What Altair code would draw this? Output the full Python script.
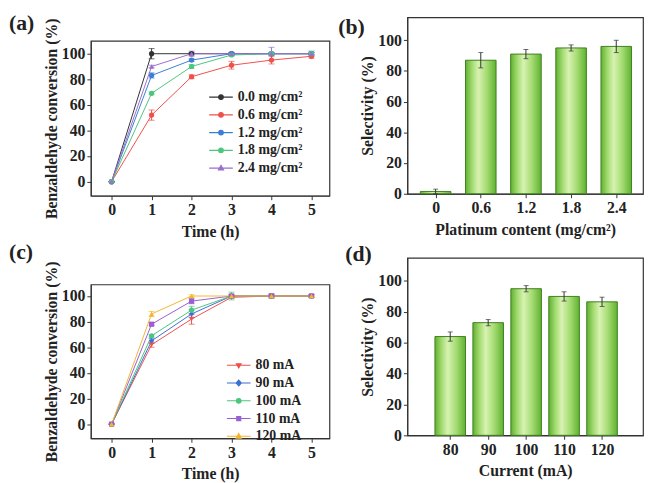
import altair as alt
import pandas as pd

# ---------------- data ----------------
time_h = [0, 1, 2, 3, 4, 5]

# (a) conversion vs time for different Pt loadings
load_labels = ["0.0 mg/cm²", "0.6 mg/cm²", "1.2 mg/cm²", "1.8 mg/cm²", "2.4 mg/cm²"]
conv_a = [
    [0, 100, 100, 100, 100, 100],
    [0, 52, 82, 91, 95, 98],
    [0, 83, 95, 100, 100, 100],
    [0, 69, 90, 99, 100, 100],
    [0, 90, 100, 100, 100, 100],
]
err_a = [
    [0, 4, 1, 1, 1, 1],
    [0, 4, 1.5, 3, 3, 1.5],
    [0, 2, 1, 1, 1, 2],
    [0, 1, 1.5, 1, 1, 1],
    [0, 1, 2, 1, 5, 1],
]
colors_a = ["#333333", "#f0504a", "#3b7fd4", "#4cc67e", "#9a6fd0"]
shapes_a = ["circle", "circle", "circle", "circle", "triangle-up"]

# (b) selectivity vs Pt content
pt_content = [0, 0.6, 1.2, 1.8, 2.4]
sel_b = [1.5, 87, 91, 95, 96]
err_b = [1.5, 5, 3, 2, 4]

# (c) conversion vs time for different currents
curr_labels = ["80 mA", "90 mA", "100 mA", "110 mA", "120 mA"]
conv_c = [
    [0, 62, 82, 99, 100, 100],
    [0, 65, 86, 100, 100, 100],
    [0, 69, 89, 100, 100, 100],
    [0, 78, 96, 100, 100, 100],
    [0, 86, 100, 100, 100, 100],
]
err_c = [
    [0, 2, 4, 1, 1, 1],
    [0, 2, 3, 1, 1, 1],
    [0, 1, 3, 3, 2, 1],
    [0, 1, 2, 1, 1, 1],
    [0, 2, 1, 1, 1, 1],
]
colors_c = ["#f0504a", "#3b6fd4", "#4cc67e", "#9a5fd0", "#f5b52e"]
shapes_c = ["triangle-down", "diamond", "circle", "square", "triangle-up"]

# (d) selectivity vs current
current_ma = [80, 90, 100, 110, 120]
sel_d = [64, 73, 95, 90, 86.5]
err_d = [3, 2, 2, 3, 3]

# ---------------- styling helpers ----------------
FONT = "Liberation Serif"
INK = "#222222"
FRAME = "#333333"

LEG_PATH = {
    "circle": "M-1,0L1,0M-0.2,0A0.2,0.2,0,1,0,0.2,0A0.2,0.2,0,1,0,-0.2,0Z",
    "triangle-up": "M-1,0L1,0M0,-0.24L0.22,0.16L-0.22,0.16Z",
    "triangle-down": "M-1,0L1,0M0,0.22L0.2,-0.14L-0.2,-0.14Z",
    "diamond": "M-1,0L1,0M0,-0.25L0.22,0L0,0.25L-0.22,0Z",
    "square": "M-1,0L1,0M-0.17,-0.17H0.17V0.17H-0.17Z",
}

IND = dict(color="independent", shape="independent", fill="independent", stroke="independent")


def long_df(labels, values, errs):
    rows = []
    for lab, vals, es in zip(labels, values, errs):
        for t, v, e in zip(time_h, vals, es):
            rows.append({"s": lab, "t": t, "v": v, "lo": v - e, "hi": v + e})
    return pd.DataFrame(rows)


def js_list(items):
    return "[" + ",".join("'" + i + "'" for i in items) + "]"


def line_panel(labels, values, errs, colors, shapes, ydom, h, tag, toff, lx, ly):
    df = long_df(labels, values, errs)
    base = alt.Chart(df)
    x = alt.X("t:Q", scale=alt.Scale(domain=[-0.52, 5.45], nice=False, zero=False),
              axis=alt.Axis(values=time_h, title="Time (h)", format="d", labelOverlap=False,
                            tickCount=20))
    y = alt.Y("v:Q", scale=alt.Scale(domain=ydom, nice=False, zero=False),
              axis=alt.Axis(values=[0, 20, 40, 60, 80, 100], title="Benzaldehyde conversion (%)",
                            labelOverlap=False, tickCount=20))
    col = alt.Color("s:N", scale=alt.Scale(domain=labels, range=colors), legend=None)
    lines = base.mark_line(strokeWidth=1).encode(x=x, y=y, color=col)
    rules = base.mark_rule(strokeWidth=1).encode(x=x, y=alt.Y("lo:Q"), y2="hi:Q", color=col)
    cap_lo = base.mark_tick(orient="horizontal", size=6, thickness=1).encode(x=x, y=alt.Y("lo:Q"), color=col)
    cap_hi = base.mark_tick(orient="horizontal", size=6, thickness=1).encode(x=x, y=alt.Y("hi:Q"), color=col)
    pts = []
    for lab, shp in zip(labels, shapes):
        pts.append(base.transform_filter(alt.datum.s == lab).mark_point(
            filled=True, size=28, opacity=1, shape=shp).encode(x=x, y=y, color=col))
    col_expr = js_list(colors) + "[indexof(" + js_list(labels) + ", datum.value)]"
    leg = base.mark_point(filled=True, opacity=0).encode(
        x=x, y=y,
        fill=alt.Fill("s:N", scale=alt.Scale(domain=labels, range=colors), legend=None),
        stroke=alt.Stroke("s:N", scale=alt.Scale(domain=labels, range=colors), legend=None),
        shape=alt.Shape("s:N", scale=alt.Scale(domain=labels, range=[LEG_PATH[s] for s in shapes]),
                        legend=alt.Legend(title=None, orient="none", legendX=lx, legendY=ly,
                                          symbolSize=576, symbolOpacity=1, symbolStrokeWidth=1.1,
                                          symbolFillColor=alt.ExprRef(expr=col_expr),
                                          symbolStrokeColor=alt.ExprRef(expr=col_expr),
                                          clipHeight=16, rowPadding=2, labelOffset=4)))
    return alt.layer(lines, rules, cap_lo, cap_hi, *pts, leg).resolve_scale(**IND).properties(
        width=242, height=h,
        title=alt.TitleParams(tag, anchor="start", frame="group", dx=-83, offset=toff))


green_fill = alt.LinearGradient(
    gradient="linear", x1=0, x2=1, y1=0, y2=0,
    stops=[alt.GradientStop(color="#5fb230", offset=0),
           alt.GradientStop(color="#a4db72", offset=0.22),
           alt.GradientStop(color="#d8f2b2", offset=0.42),
           alt.GradientStop(color="#a4db72", offset=0.7),
           alt.GradientStop(color="#5fb230", offset=1)])


def bar_panel(xs, ys, es, xdom, xlabels_fmt, xtitle, h, tag, tdx, toff):
    df = pd.DataFrame({"x": xs, "y": ys, "lo": [a - b for a, b in zip(ys, es)],
                       "hi": [a + b for a, b in zip(ys, es)]})
    base = alt.Chart(df)
    x = alt.X("x:Q", scale=alt.Scale(domain=xdom, nice=False, zero=False),
              axis=alt.Axis(values=xs, title=xtitle, format=xlabels_fmt, labelOverlap=False,
                            tickCount=20))
    y = alt.Y("y:Q", scale=alt.Scale(domain=[0, 115], nice=False),
              axis=alt.Axis(values=[0, 20, 40, 60, 80, 100], title="Selectivity (%)",
                            labelOverlap=False, tickCount=20))
    bars = base.mark_bar(size=31, fill=green_fill, stroke="#3f7f22", strokeWidth=1).encode(x=x, y=y)
    rules = base.mark_rule(strokeWidth=1, color="#333333").encode(x=x, y=alt.Y("lo:Q"), y2="hi:Q")
    cap_lo = base.mark_tick(orient="horizontal", size=5, thickness=1, color="#333333").encode(x=x, y=alt.Y("lo:Q"))
    cap_hi = base.mark_tick(orient="horizontal", size=5, thickness=1, color="#333333").encode(x=x, y=alt.Y("hi:Q"))
    return alt.layer(bars, rules, cap_lo, cap_hi).properties(
        width=239, height=h,
        title=alt.TitleParams(tag, anchor="start", frame="group", dx=tdx, offset=toff))


pa = line_panel(load_labels, conv_a, err_a, colors_a, shapes_a, [-11, 110], 157, "(a)", -17, 119, 49)
pb = bar_panel(pt_content, sel_b, err_b, [-0.31, 2.69], ".1~f", "Platinum content (mg/cm²)", 179, "(b)", -70, -22)
pc = line_panel(curr_labels, conv_c, err_c, colors_c, shapes_c, [-11, 109], 156, "(c)", -3, 137, 74)
pd_ = bar_panel(current_ma, sel_d, err_d, [70, 129.5], "d", "Current (mA)", 180, "(d)", -63, -8)

spacer = alt.Chart(pd.DataFrame({"z": [0]})).mark_point(opacity=0).properties(
    width=1, height=1, view=alt.ViewBackground(stroke=None))

col1 = alt.vconcat(alt.vconcat(spacer, pa, spacing=-10).resolve_scale(**IND), pc,
                   spacing=0).resolve_scale(**IND)
col2 = alt.vconcat(pb, pd_, spacing=4).resolve_scale(**IND)

chart = alt.hconcat(col1, col2, spacing=7).resolve_scale(**IND).properties(
    padding={"left": 0, "top": 0, "right": 0, "bottom": 0}, background="white"
).configure_view(
    stroke=FRAME, strokeWidth=1.2
).configure_axis(
    labelFont=FONT, labelFontWeight="bold", labelFontSize=16, labelColor=INK,
    titleFont=FONT, titleFontWeight="bold", titleFontSize=16, titleColor=INK,
    domainColor=FRAME, tickColor=FRAME, tickSize=4, grid=False,
    labelPadding=2, titlePadding=4, labelOverlap=False,
).configure_axisX(titlePadding=6).configure_axisY(titlePadding=2).configure_title(
    font=FONT, fontWeight="bold", fontSize=22, color=INK,
).configure_legend(
    labelFont=FONT, labelFontWeight="bold", labelFontSize=14, labelColor=INK,
)

chart.save("out.html", embed_options={"renderer": "svg", "actions": False})
